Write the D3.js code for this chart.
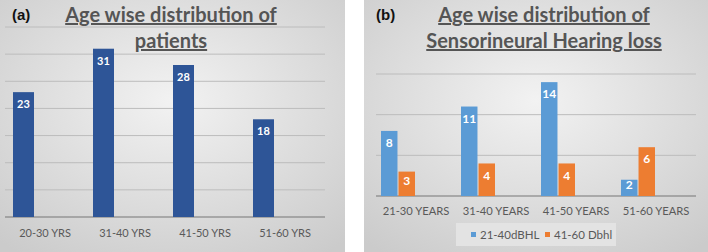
<!DOCTYPE html>
<html>
<head>
<meta charset="utf-8">
<script src="https://cdn.jsdelivr.net/npm/d3@7"></script>
<style>
  body { margin: 0; background: #fff; }
  svg { display: block; font-family: Lato, "Open Sans", sans-serif; }
</style>
</head>
<body>
<script>
// panel (a)
var ageGroupsA = ["20-30 YRS", "31-40 YRS", "41-50 YRS", "51-60 YRS"];
var patients = [23, 31, 28, 18];
var ticksA = [0, 5, 10, 15, 20, 25, 30, 35];

// panel (b)
var ageGroupsB = ["21-30 YEARS", "31-40 YEARS", "41-50 YEARS", "51-60 YEARS"];
var mild = [8, 11, 14, 2];       // 21-40dBHL
var moderate = [3, 4, 4, 6];     // 41-60 Dbhl
var seriesNames = ["21-40dBHL", "41-60 Dbhl"];
var ticksB = [0, 5, 10, 15];

const WIDTH = 708, HEIGHT = 252;

var svg = d3.select("body").append("svg")
  .attr("width", WIDTH).attr("height", HEIGHT);

var defs = svg.append("defs");
var grad = defs.append("radialGradient").attr("id", "bg")
  .attr("cx", "50%").attr("cy", "40%").attr("r", "75%");
grad.append("stop").attr("offset", "0%").attr("stop-color", "#f2f2f2");
grad.append("stop").attr("offset", "100%").attr("stop-color", "#cbcbcb");

var panel = function (x0, w, label, titleLines, tx) {
  var g = svg.append("g").attr("transform", "translate(" + x0 + ",0)");
  g.append("rect").attr("width", w).attr("height", HEIGHT).attr("fill", "url(#bg)");
  g.append("text").attr("x", 12).attr("y", 20)
    .attr("font-family", "Liberation Sans, Arial, sans-serif")
    .attr("font-weight", "bold").attr("font-size", 15).attr("fill", "#111")
    .text(label);
  titleLines.forEach(function (t, i) {
    g.append("text").attr("x", tx).attr("y", 22 + i * 26)
      .attr("text-anchor", "middle").attr("font-weight", "bold")
      .attr("font-size", 20).attr("fill", "#555")
      .style("text-decoration", "underline")
      .text(t);
  });
  return g;
};

var grid = function (g, y, ticks, x0, x1) {
  g.selectAll(null).data(ticks).enter().append("line")
    .attr("x1", x0).attr("x2", x1)
    .attr("y1", function (d) { return y(d); }).attr("y2", function (d) { return y(d); })
    .attr("stroke", function (d) { return d == 0 ? "#777" : "#bcbcbc"; })
    .attr("stroke-width", function (d) { return d == 0 ? 1.2 : 1; });
};

var xAxisText = function (g, x, yPos, size) {
  var ax = g.append("g").attr("transform", "translate(0," + yPos + ")")
    .call(d3.axisBottom(x).tickSize(0).tickPadding(0));
  ax.select(".domain").remove();
  ax.selectAll("text").attr("font-family", "Lato, sans-serif")
    .attr("font-size", size).attr("fill", "#595959").attr("dy", "0.32em");
};

// ---- (a)
var gA = panel(0, 345, "(a)", ["Age wise distribution of", "patients"], 171);

var xA = d3.scaleBand().domain(ageGroupsA).range([5, 325]);
var yA = d3.scaleLinear().domain([0, 35]).range([217, 27]);

grid(gA, yA, ticksA, 5, 325);

gA.selectAll(".barA").data(patients).enter().append("rect")
  .attr("x", function (d, i) { return xA(ageGroupsA[i]) + 8; })
  .attr("width", 21)
  .attr("y", function (d) { return yA(d); })
  .attr("height", function (d) { return yA(0) - yA(d); })
  .attr("fill", "#2e5597");

gA.selectAll(".valA").data(patients).enter().append("text")
  .attr("x", function (d, i) { return xA(ageGroupsA[i]) + 18.5; })
  .attr("y", function (d) { return yA(d) + 12; })
  .attr("dy", "0.35em").attr("text-anchor", "middle")
  .attr("font-weight", "bold").attr("font-size", 11).attr("fill", "#fff")
  .text(function (d) { return d; });

xAxisText(gA, xA, 233, 11);

// ---- (b)
var gB = panel(364, 344, "(b)", ["Age wise distribution of", "Sensorineural Hearing loss"], 180);

var xB = d3.scaleBand().domain(ageGroupsB).range([12, 332]);
var yB = d3.scaleLinear().domain([0, 15]).range([196, 74]);
var sub = d3.scaleBand().domain(seriesNames).range([5, 39]).paddingInner(0.06);
var colors = d3.scaleOrdinal().domain(seriesNames).range(["#5b9bd5", "#ed7d31"]);

grid(gB, yB, ticksB, 12, 332);

var rows = ageGroupsB.map(function (c, i) {
  return [{ s: seriesNames[0], c: c, v: mild[i] }, { s: seriesNames[1], c: c, v: moderate[i] }];
});

var groups = gB.selectAll(".grp").data(rows).enter().append("g")
  .attr("transform", function (d, i) { return "translate(" + xB(ageGroupsB[i]) + ",0)"; });

groups.selectAll("rect").data(function (d) { return d; }).enter().append("rect")
  .attr("x", function (d) { return sub(d.s); })
  .attr("width", sub.bandwidth())
  .attr("y", function (d) { return yB(d.v); })
  .attr("height", function (d) { return yB(0) - yB(d.v); })
  .attr("fill", function (d) { return colors(d.s); });

groups.selectAll("text").data(function (d) { return d; }).enter().append("text")
  .attr("x", function (d) { return sub(d.s) + sub.bandwidth() / 2; })
  .attr("y", function (d) { var h = yB(0) - yB(d.v); return yB(d.v) + Math.min(12, h / 2 - 3); })
  .attr("dy", "0.35em").attr("text-anchor", "middle")
  .attr("font-weight", "bold").attr("font-size", 12).attr("fill", "#fff")
  .text(function (d) { return d.v; });

xAxisText(gB, xB, 211, 11.2);

// legend
var lg = gB.append("g").attr("transform", "translate(92,223)");
lg.append("rect").attr("width", 160).attr("height", 23).attr("fill", "#e3e3e3");
var items = lg.selectAll(".item").data(seriesNames).enter().append("g")
  .attr("transform", function (d, i) { return "translate(" + (i == 0 ? 15 : 89) + ",0)"; });
items.append("rect").attr("y", 9).attr("width", 5).attr("height", 5)
  .attr("fill", function (d) { return colors(d); });
items.append("text").attr("x", 9).attr("y", 12).attr("dy", "0.35em")
  .attr("font-size", 11.5).attr("fill", "#595959")
  .text(function (d) { return d; });
</script>
</body>
</html>
